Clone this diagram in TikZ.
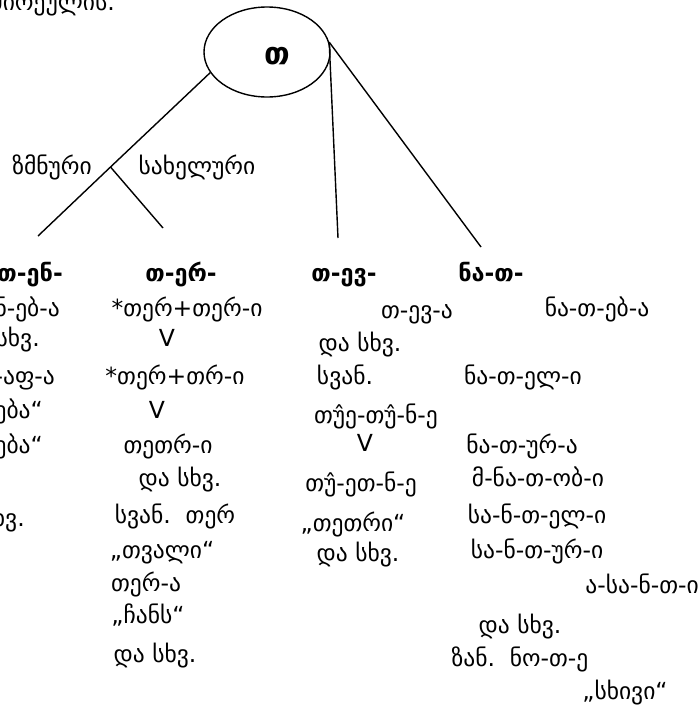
\documentclass[tikz,border=0pt]{standalone}
\usepackage{fontspec}
\setmainfont{DejaVu Sans}
\usetikzlibrary{shapes.geometric}
\begin{document}
\begin{tikzpicture}[x=1pt,y=-1pt,
  tx/.style={inner sep=0pt, font=\fontsize{23.5}{28}\selectfont, anchor=base},
  txr/.style={tx, anchor=base east},
  hd/.style={inner sep=0pt, font=\fontsize{23.5}{28}\selectfont\bfseries, anchor=base},
  ln/.style={line width=1.4pt}]
\useasboundingbox (0,0) rectangle (699,707);
\begin{scope}
\clip (0,0) rectangle (699,707);
% root
\node[draw, ln, ellipse, inner sep=0pt, minimum width=126pt, minimum height=90pt] (root) at (267,52) {};
\node[hd, font=\fontsize{31}{36}\selectfont\bfseries] (rootlbl) at (277,64) {თ};
\coordinate (e1) at (38,236);
\coordinate (br) at (110.5,167);
\coordinate (e1b) at (163,228);
\coordinate (e2) at (338,238);
\coordinate (e3) at (481,247);
\draw[ln] (root.200) -- (br) -- (e1);
\draw[ln] (br) -- (e1b);
\draw[ln] (root.9) -- (e2);
\draw[ln] (root.9) -- (e3);
\node[tx] (zmn) at (52,174) {ზმნური};
\node[tx] (sax) at (197,174) {სახელური};
% top-left clipped text
\node[txr] (top) at (115,10) {ძირეულის.};
% headings
\node[txr, font=\fontsize{23.5}{28}\selectfont\bfseries] (h1) at (63,281) {თ-ენ-};
\node[hd] (h2) at (181,281) {თ-ერ-};
\node[hd] (h3) at (344,281) {თ-ევ-};
\node[hd] (h4) at (491,281) {ნა-თ-};
% column 1
\node[txr] (a1) at (60,316) {თ-ენ-ებ-ა};
\node[txr] (a2) at (40,346) {და სხვ.};
\node[txr] (a3) at (55,384) {თ-ენ-აფ-ა};
\node[txr] (a4) at (43,418) {„თენება“};
\node[txr] (a5) at (43,453) {„გათენება“};
\node[txr] (a6) at (25,526) {და სხვ.};
% column 2
\node[tx] (b1) at (187,316) {*თერ+თერ-ი};
\node[tx] (b2) at (167,346) {V};
\node[tx] (b3) at (175,384) {*თერ+თრ-ი};
\node[tx] (b4) at (157,418) {V};
\node[tx] (b5) at (168,453) {თეთრ-ი};
\node[tx] (b6) at (180,486) {და სხვ.};
\node[tx] (b7) at (175,523) {სვან.\ \ თერ};
\node[tx] (b8) at (162,558) {„თვალი“};
\node[tx] (b9) at (146,591) {თერ-ა};
\node[tx] (b10) at (148,623) {„ჩანს“};
\node[tx] (b11) at (155,662) {და სხვ.};
% column 3
\node[tx] (c1) at (417,318) {თ-ევ-ა};
\node[tx] (c2) at (360,351) {და სხვ.};
\node[tx] (c3) at (345,384) {სვან.};
\node[tx] (c4) at (376,423) {თუ̂ე-თუ̂-ნ-ე};
\node[tx] (c5) at (365,451) {V};
\node[tx] (c6) at (361,491) {თუ̂-ეთ-ნ-ე};
\node[tx] (c7) at (353,531) {„თეთრი“};
\node[tx] (c8) at (358,561) {და სხვ.};
% column 4
\node[tx] (d1) at (597,316) {ნა-თ-ებ-ა};
\node[tx] (d2) at (523,384) {ნა-თ-ელ-ი};
\node[tx] (d3) at (522,453) {ნა-თ-ურ-ა};
\node[tx] (d4) at (538,486) {მ-ნა-თ-ობ-ი};
\node[tx] (d5) at (537,523) {სა-ნ-თ-ელ-ი};
\node[tx] (d6) at (537,558) {სა-ნ-თ-ურ-ი};
\node[txr] (d7) at (699,593) {ა-სა-ნ-თ-ი};
\node[tx] (d8) at (520,633) {და სხვ.};
\node[tx] (d9) at (520,666) {ზან.\ \ ნო-თ-ე};
\node[tx] (d10) at (625,699) {„სხივი“};
\end{scope}
\end{tikzpicture}
\end{document}
